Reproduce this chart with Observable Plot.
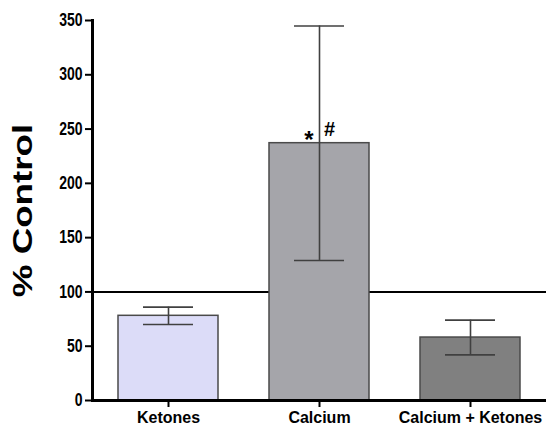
<!DOCTYPE html>
<html>
<head>
<meta charset="utf-8">
<script src="https://cdn.jsdelivr.net/npm/d3@7"></script>
<script src="https://cdn.jsdelivr.net/npm/@observablehq/plot@0.6"></script>
<style>
  html, body { margin: 0; padding: 0; background: #fff; overflow: hidden; }
  #chart svg { display: block; }
</style>
</head>
<body>
<div id="chart"></div>
<script>
// Group means (% of control) with their error half-widths
const groups = ["Ketones", "Calcium", "Calcium + Ketones"];
const means = [78, 237, 58];
const errors = [8, 108, 16];
const yTicks = [0, 50, 100, 150, 200, 250, 300, 350];
const controlLevel = 100;
const yTitle = "% Control";
const marks = [
  { group: "Calcium", text: "*" },
  { group: "Calcium", text: "#" }
];

const data = groups.map((g, i) => ({
  group: g,
  mean: means[i],
  lo: means[i] - errors[i],
  hi: means[i] + errors[i]
}));
const meanOf = (d) => means[groups.indexOf(d.group)];

const font = "'Liberation Sans', Arial, Helvetica, sans-serif";

const chart = Plot.plot({
  width: 551,
  height: 426,
  marginLeft: 92,
  marginRight: 5,
  marginTop: 20,
  marginBottom: 26,
  style: { fontFamily: font, background: "#fff", color: "#000" },
  x: { domain: groups, paddingInner: 0.34, paddingOuter: 0.17, label: null },
  y: { domain: [0, 350], label: null },
  color: { domain: groups, range: ["#dcdcf8", "#a5a5aa", "#808080"] },
  marks: [
    // control reference line
    Plot.ruleY([controlLevel], { stroke: "#000", strokeWidth: 2 }),
    Plot.barY(data, {
      x: "group", y: "mean", fill: "group",
      stroke: "#4a4a4a", strokeWidth: 1.5
    }),
    // error bars
    Plot.ruleX(data, { x: "group", y1: "lo", y2: "hi", stroke: "#404040", strokeWidth: 1.6 }),
    Plot.tickY(data, { x: "group", y: "hi", stroke: "#404040", strokeWidth: 1.6, insetLeft: 25, insetRight: 25 }),
    Plot.tickY(data, { x: "group", y: "lo", stroke: "#404040", strokeWidth: 1.6, insetLeft: 25, insetRight: 25 }),
    // significance markers
    Plot.text([marks[0]], {
      x: "group", y: meanOf, text: "text",
      dx: -10.5, dy: -3, fontSize: 24, fontWeight: "bold", fill: "#000", lineAnchor: "middle"
    }),
    Plot.text([marks[1]], {
      x: "group", y: meanOf, text: "text",
      dx: 10, dy: -13.5, fontSize: 20, fontWeight: "bold", fill: "#000", lineAnchor: "middle"
    }),
    // axes
    Plot.axisY({
      ticks: yTicks, tickSize: 7, tickPadding: 3, strokeWidth: 2,
      fontSize: 14, fontWeight: "bold", fill: "#000", stroke: "#000", label: null
    }),
    Plot.axisX({
      tickSize: 7, tickPadding: 3, strokeWidth: 2,
      fontSize: 16, fontWeight: "bold", fill: "#000", stroke: "#000", label: null
    }),
    // heavy axis lines
    Plot.frame({ anchor: "left", stroke: "#000", strokeWidth: 3, clip: null }),
    Plot.ruleY([0], { stroke: "#000", strokeWidth: 3 }),
    Plot.text([yTitle], {
      frameAnchor: "left", rotate: -90, dx: -69, fontSize: 27, fontWeight: "bold",
      fill: "#000", lineAnchor: "middle", textAnchor: "middle"
    })
  ]
});

// Tall, condensed lettering: stretch glyphs vertically about their anchor
function stretchEl(el, sy) {
  const t = el.getAttribute("transform");
  if (t && /^translate\(/.test(t)) {
    el.setAttribute("transform", t.replace(/^(translate\([^)]*\))/, `$1 scale(1,${sy})`));
  } else {
    const x = +el.getAttribute("x") || 0;
    const y = +el.getAttribute("y") || 0;
    el.removeAttribute("x");
    el.removeAttribute("y");
    el.setAttribute("transform", `translate(${x},${y}) scale(1,${sy})${t ? " " + t : ""}`);
  }
}
chart.querySelectorAll('g[aria-label="y-axis tick label"] text').forEach((el) => stretchEl(el, 1.25));
chart.querySelectorAll('g[aria-label="x-axis tick label"] text').forEach((el) => stretchEl(el, 1.08));
chart.querySelectorAll("text").forEach((el) => {
  if (el.textContent === yTitle) stretchEl(el, 1.36);
});

document.getElementById("chart").appendChild(chart);
</script>
</body>
</html>
